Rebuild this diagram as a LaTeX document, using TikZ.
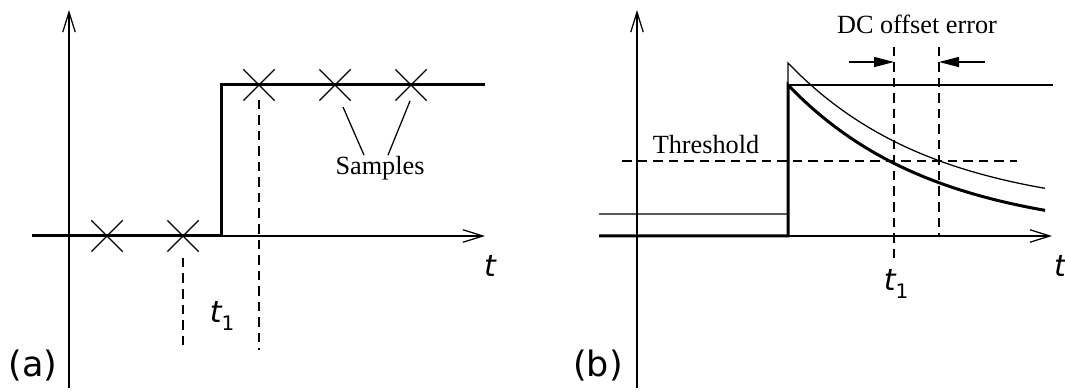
\documentclass[tikz,border=0pt]{standalone}
\usepackage{fontspec}
\setmainfont{Liberation Serif}
\newfontfamily\labelfont{DejaVu Sans}
\usetikzlibrary{arrows.meta, shapes.misc, calc}

\newcommand{\tvar}{{\labelfont\itshape t}}
\newcommand{\tone}{{\labelfont\itshape t\raisebox{-0.45ex}{\upshape\fontsize{8}{9}\selectfont 1}}}

\begin{document}
\begin{tikzpicture}[
    x=0.4pt, y=-0.4pt,
    axis/.style={line width=0.5pt, -{Straight Barb[length=8pt,width=5pt]}},
    signal/.style={line width=1.2pt},
    fine/.style={line width=0.5pt},
    guide/.style={line width=0.5pt, dash pattern=on 3.8pt off 2.4pt},
    markx/.style={cross out, draw, line width=0.5pt, minimum size=12pt, inner sep=0pt},
    offarrow/.style={line width=0.5pt, -{Triangle[length=8pt,width=4pt]}},
    caption/.style={font=\labelfont\fontsize{14}{16}\selectfont, inner sep=0pt},
    varlabel/.style={font=\fontsize{12}{14}\selectfont, inner sep=0pt},
    txt/.style={font=\fontsize{10.5}{12}\selectfont, inner sep=1pt}
]
    \useasboundingbox (0,0) rectangle (1065,392);

    % Panel (a): sampled step
    \coordinate (ya0) at (69,388);
    \coordinate (ya1) at (69,10);
    \coordinate (xa0) at (32,236);
    \coordinate (xa1) at (485,236);
    \draw[axis] (ya0) -- (ya1);
    \draw[axis] (xa0) -- (xa1);
    \draw[signal] (xa0) -- (221,236) -- (221,85) -- (485,85);

    \node[markx] (s1) at (107,236) {};
    \node[markx] (s2) at (183,236) {};
    \node[markx] (s3) at (259,85) {};
    \node[markx] (s4) at (335,85) {};
    \node[markx] (s5) at (411,85) {};

    \draw[guide] ($(s2)+(0,22)$) -- ($(s2)+(0,114)$);
    \draw[guide] ($(s3)+(0,15)$) -- ($(s3)+(0,265)$);

    \node[txt] (smp) at (380,168) {Samples};
    \draw[fine] ($(s4)+(8,22)$) -- ($(smp.north)+(-16,2)$);
    \draw[fine] ($(s5)+(-1,16)$) -- ($(smp.north)+(8,2)$);

    \node[varlabel] (ta) at (490,266) {\tvar};
    \node[varlabel] (ta1) at (222,316) {\tone};
    \node[caption] (capa) at (33,366) {(a)};

    % Panel (b): decaying pulse with DC offset
    \coordinate (yb0) at (637,388);
    \coordinate (yb1) at (637,10);
    \coordinate (xb0) at (599,236);
    \coordinate (xb1) at (1052,236);
    \draw[axis] (yb0) -- (yb1);
    \draw[axis] (xb0) -- (xb1);

    \draw[signal] (xb0) -- (788,236) -- (788,85)
        -- plot[domain=788:1045, samples=60] (\x, {236-151*exp(-(\x-788)/145)});
    \draw[fine] (599,214) -- (788,214) -- (788,63)
        -- plot[domain=788:1045, samples=60] (\x, {214-151*exp(-(\x-788)/145)});
    \draw[fine] (788,85) -- (1053,85);

    \draw[guide] (622,161) -- (1017,161);
    \node[txt] (thr) at (706,145) {Threshold};

    \coordinate (c1) at (894,47);
    \coordinate (c2) at (939,47);
    \draw[guide] (c1) -- (894,263);
    \draw[guide] (c2) -- (939,236);

    \coordinate (l1) at (849,62);
    \coordinate (r1) at (894,62);
    \coordinate (l2) at (985,62);
    \coordinate (r2) at (939,62);
    \draw[offarrow] (l1) -- (r1);
    \draw[offarrow] (l2) -- (r2);
    \node[txt] (dco) at (917,24) {DC offset error};

    \node[varlabel] (tb) at (1060,266) {\tvar};
    \node[varlabel] (tb1) at (896,284) {\tone};
    \node[caption] (capb) at (598,366) {(b)};
\end{tikzpicture}
\end{document}
